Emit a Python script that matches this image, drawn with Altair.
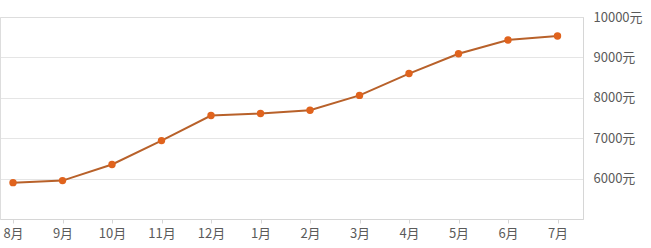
import altair as alt
import pandas as pd

months = ["8月", "9月", "10月", "11月", "12月", "1月", "2月", "3月", "4月", "5月", "6月", "7月"]
prices = [5900, 5950, 6350, 6940, 7560, 7610, 7690, 8060, 8600, 9090, 9430, 9530]
y_ticks = [6000, 7000, 8000, 9000, 10000]

df = pd.DataFrame({"month": months, "price": prices})

FONT = "Noto Sans CJK SC"

x = alt.X(
    "month:O",
    sort=months,
    scale=alt.Scale(type="point", padding=0.389, align=0.338),
    axis=alt.Axis(
        title=None,
        labelAngle=0,
        grid=False,
        domainColor="#d6d6d6",
        tickColor="#d6d6d6",
        tickSize=4,
        labelPadding=4,
        labelColor="#5a5a5a",
        labelFontSize=13,
        labelFont=FONT,
    ),
)
y = alt.Y(
    "price:Q",
    scale=alt.Scale(domain=[5000, 10000], nice=False, zero=False),
    axis=alt.Axis(
        title=None,
        orient="right",
        values=y_ticks,
        ticks=False,
        domainColor="#d6d6d6",
        gridColor="#dddddd",
        labelExpr="datum.value + '元'",
        labelPadding=10,
        labelColor="#5a5a5a",
        labelFontSize=13,
        labelFont=FONT,
    ),
)

line = alt.Chart(df).mark_line(color="#b8612a", strokeWidth=2).encode(x=x, y=y)
pts = alt.Chart(df).mark_point(filled=True, color="#e0631d", size=55, opacity=1).encode(x=x, y=y)

chart = (
    alt.layer(line, pts)
    .properties(
        width=583,
        height=202,
        autosize=alt.AutoSizeParams(type="none"),
        padding={"left": 0, "top": 17, "right": 68, "bottom": 29},
    )
    .configure_view(strokeWidth=0, stroke="transparent")
    .configure(background="white")
    .configure_axis(gridDash=[1, 0])
)

chart.save("out.html", embed_options={"renderer": "svg", "actions": False})
